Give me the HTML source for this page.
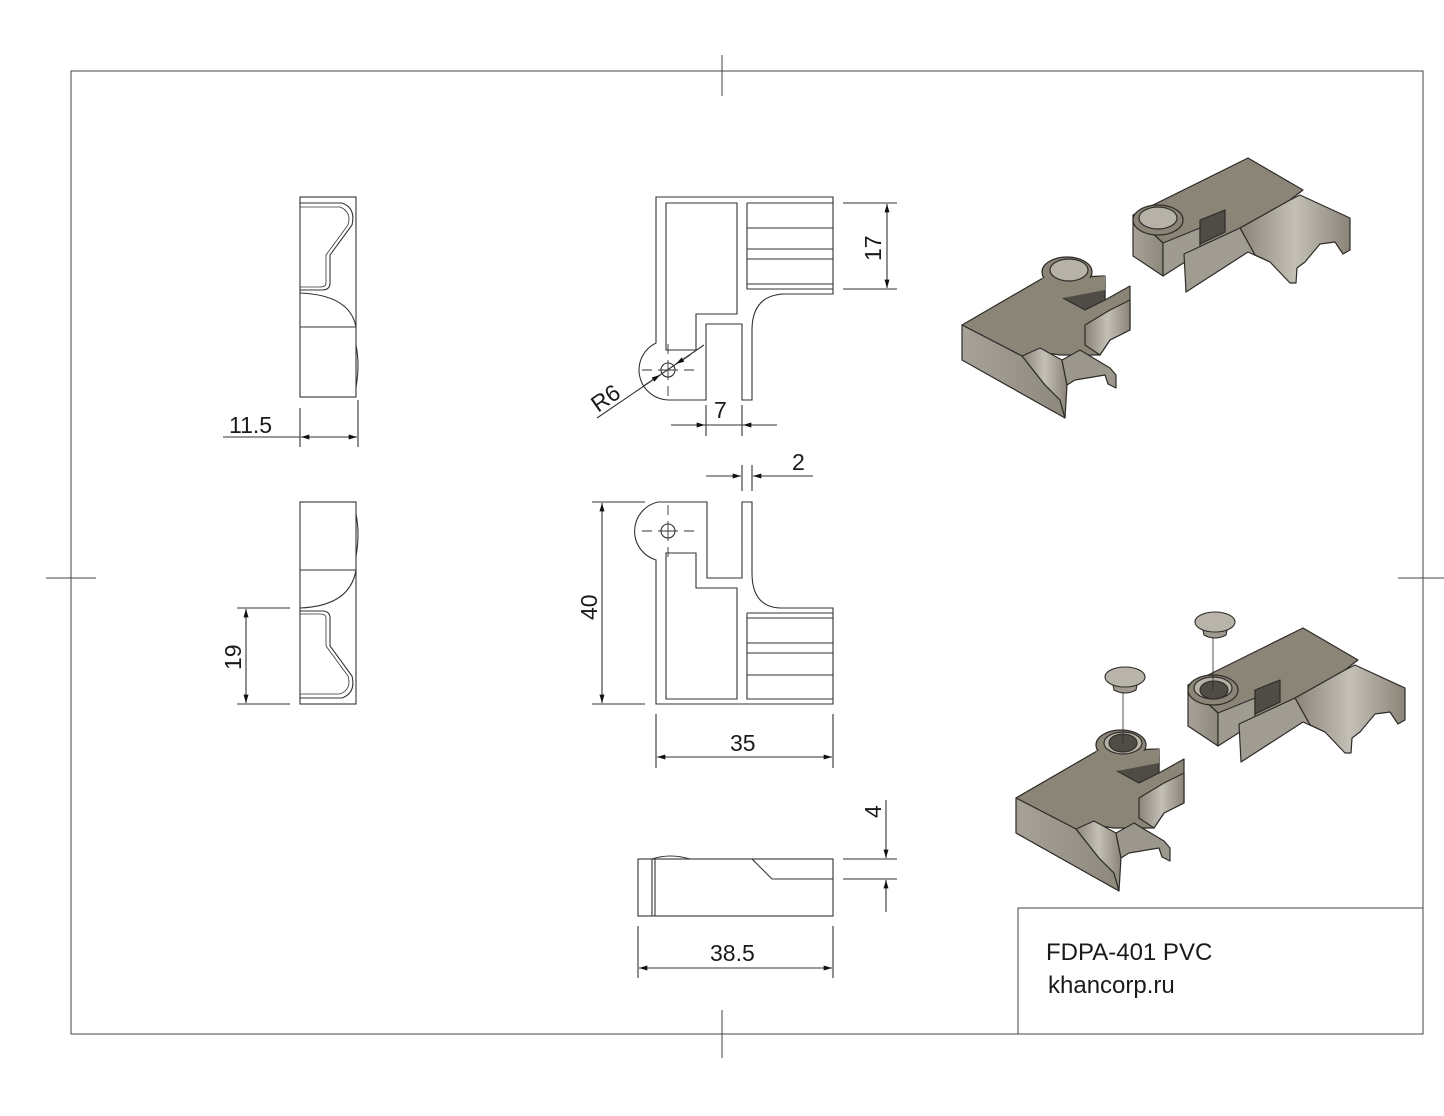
<!DOCTYPE html>
<html><head><meta charset="utf-8"><style>
html,body{margin:0;padding:0;background:#fff;}
svg{display:block}
text{font-family:"Liberation Sans",Arial,sans-serif;fill:#1a1a1a}
</style></head><body>
<svg width="1444" height="1116" viewBox="0 0 1444 1116" xmlns="http://www.w3.org/2000/svg">
<defs>
<marker id="a" viewBox="0 0 10 6" refX="10" refY="3" markerWidth="14" markerHeight="5" markerUnits="userSpaceOnUse" orient="auto-start-reverse"><path d="M0,0L10,3L0,6Z" fill="#111"/></marker>
<linearGradient id="gs" x1="0" y1="0" x2="1" y2="0"><stop offset="0" stop-color="#a7a298"/><stop offset="1" stop-color="#8d887c"/></linearGradient>
<linearGradient id="gc" x1="0" y1="0" x2="1" y2="0"><stop offset="0" stop-color="#8a8478"/><stop offset="0.5" stop-color="#c4c0b7"/><stop offset="1" stop-color="#8a8478"/></linearGradient>
<g id="pA" stroke="#2e2c28" stroke-width="1.2" stroke-linejoin="round">
 <path d="M962,325 L1043,278 L1105,276 L1105,300 L1130,286 L1130,330 L1110,340 L1100,355 L1060,355 L1040,352 L1022,356 Z" fill="#8b8577"/>
 <path d="M962,325 L1022,356 L1045,385 L1060,400 L1065,418 L962,360 Z" fill="url(#gs)"/>
 <path d="M1022,356 L1040,348 L1062,360 L1067,385 L1065,418 L1060,400 L1045,385 Z" fill="url(#gc)"/>
 <path d="M1062,360 L1080,350 L1110,368 L1116,375 L1116,388 L1108,384 L1105,375 L1075,380 L1067,385 Z" fill="#9c978c"/>
 <path d="M1085,325 L1110,310 L1130,300 L1130,330 L1110,340 L1100,355 L1085,345 Z" fill="url(#gc)"/>
 <path d="M1063,298 L1090,284 L1105,282 L1105,300 L1085,310 Z" fill="#4f4c46"/>
 <ellipse cx="1067" cy="272" rx="25" ry="15" fill="#8b8577"/>
 <path d="M1042,278 L1092,278 L1105,276 L1105,290 L1063,298 Z" fill="#8b8577" stroke="none"/>
 <ellipse cx="1069" cy="270" rx="19" ry="11" fill="#b7b2a8"/>
</g>
<g id="pB" stroke="#2e2c28" stroke-width="1.2" stroke-linejoin="round">
 <path d="M1133,215 L1248,158 L1303,190 L1290,200 L1240,228 L1190,252 L1163,243 Z" fill="#8b8577"/>
 <path d="M1133,215 L1163,243 L1163,276 L1133,256 Z" fill="url(#gs)"/>
 <path d="M1163,243 L1200,228 L1200,250 L1185,256 L1185,262 L1163,276 Z" fill="#a09b90"/>
 <path d="M1200,220 L1225,210 L1225,232 L1200,244 Z" fill="#4f4c46"/>
 <path d="M1240,228 L1290,200 L1300,195 L1350,218 L1350,250 L1343,254 L1335,242 L1320,244 L1305,262 L1297,268 L1296,283 L1290,283 L1270,262 L1255,255 Z" fill="url(#gc)"/>
 <path d="M1184,254 L1240,228 L1255,255 L1270,262 L1248,252 L1186,292 Z" fill="#a19c91"/>
 <ellipse cx="1158" cy="220" rx="25" ry="15" fill="#8b8577"/>
 <ellipse cx="1158" cy="218" rx="19" ry="11" fill="#b7b2a8"/>
</g>
</defs>

<g fill="none" stroke="#444" stroke-width="1">
<rect x="71" y="71" width="1352" height="963"/>
<line x1="722" y1="55" x2="722" y2="96"/><line x1="722" y1="1010" x2="722" y2="1058"/>
<line x1="46" y1="578" x2="96" y2="578"/><line x1="1398" y1="578" x2="1444" y2="578"/>
<rect x="1018" y="908" width="405" height="126"/>
</g>
<text x="1046" y="960" font-size="24">FDPA-401 PVC</text>
<text x="1048" y="993" font-size="24">khancorp.ru</text>

<!-- Top view -->
<g fill="none" stroke="#333" stroke-width="1.1">
<path d="M656,197 L833,197 L833,294 L783,294 Q752,296 752,330 L752,400 L742,400 L742,324 L706,324 L706,400 L668,400 A30,30 0 0 1 656,343 Z"/>
<path d="M666,203 L737,203 L737,314 L696,314 L696,350 L666,350 Z"/>
<path d="M747,203 L833,203 M747,203 L747,289 L833,289 M747,228 L833,228 M747,249 L833,249 M747,259 L833,259 M747,284 L833,284"/>
<circle cx="668" cy="370" r="7"/>
<path d="M642,370 L652,370 M658,370 L678,370 M684,370 L694,370 M668,344 L668,354 M668,360 L668,380 M668,386 L668,396" stroke-width="0.9"/>
<path d="M843,203 L897,203 M843,289 L897,289"/>
<line x1="887" y1="204" x2="887" y2="288" marker-start="url(#a)" marker-end="url(#a)"/>
<line x1="597" y1="418" x2="704" y2="345"/>
<line x1="645" y1="385" x2="660" y2="375" marker-end="url(#a)"/>
<line x1="690" y1="355" x2="676" y2="364" marker-end="url(#a)"/>
<path d="M706,405 L706,436 M742,405 L742,436"/>
<line x1="671" y1="425" x2="705" y2="425" marker-end="url(#a)"/>
<line x1="777" y1="425" x2="743" y2="425" marker-end="url(#a)"/>
<line x1="705" y1="425" x2="743" y2="425"/>
</g>
<text x="0" y="0" font-size="23" transform="translate(881,261) rotate(-90)">17</text>
<text x="0" y="0" font-size="23" transform="translate(598,413) rotate(-35)">R6</text>
<text x="714" y="418" font-size="23">7</text>

<!-- Front view -->
<g fill="none" stroke="#333" stroke-width="1.1">
<path d="M658,502 L707,502 L707,578 L742,578 L742,502 L752,502 L752,573 Q752,608 782,608 L833,608 L833,704 L656,704 L656,560 A30,30 0 0 1 658,502 Z"/>
<path d="M666,553 L696,553 L696,588 L737,588 L737,699 L666,699 Z"/>
<path d="M747,613 L747,699 L833,699 M747,613 L833,613 M747,618 L833,618 M747,643 L833,643 M747,653 L833,653 M747,675 L833,675"/>
<circle cx="668" cy="531" r="7"/>
<path d="M642,531 L652,531 M658,531 L678,531 M684,531 L694,531 M668,505 L668,515 M668,521 L668,541 M668,547 L668,557" stroke-width="0.9"/>
<path d="M592,502 L645,502 M592,704 L645,704"/>
<line x1="602" y1="503" x2="602" y2="703" marker-start="url(#a)" marker-end="url(#a)"/>
<path d="M656,714 L656,768 M833,714 L833,768"/>
<line x1="657" y1="757" x2="832" y2="757" marker-start="url(#a)" marker-end="url(#a)"/>
<path d="M742,465 L742,491 M752,465 L752,491"/>
<line x1="706" y1="476" x2="741" y2="476" marker-end="url(#a)"/>
<line x1="813" y1="476" x2="753" y2="476" marker-end="url(#a)"/>
</g>
<text x="0" y="0" font-size="23" transform="translate(597,620) rotate(-90)">40</text>
<text x="730" y="751" font-size="23">35</text>
<text x="792" y="470" font-size="23">2</text>

<!-- Bottom view -->
<g fill="none" stroke="#333" stroke-width="1.1">
<rect x="638" y="859" width="195" height="57"/>
<path d="M652,859 L652,916 M655,859 L655,916"/>
<path d="M652,859 Q670,853 690,859"/>
<path d="M752,859 L772,879 L833,879"/>
<path d="M843,859 L897,859 M843,879 L897,879"/>
<line x1="886" y1="800" x2="886" y2="858" marker-end="url(#a)"/>
<line x1="886" y1="912" x2="886" y2="880" marker-end="url(#a)"/>
<path d="M638,926 L638,978 M833,926 L833,978"/>
<line x1="639" y1="968" x2="832" y2="968" marker-start="url(#a)" marker-end="url(#a)"/>
</g>
<text x="0" y="0" font-size="23" transform="translate(881,818) rotate(-90)">4</text>
<text x="710" y="961" font-size="23">38.5</text>

<!-- Side views -->
<g fill="none" stroke="#333" stroke-width="1.1">
<rect x="300" y="197" width="56" height="200"/>
<path d="M300,327 L356,327 M300,293 Q350,295 356,327"/>
<path d="M300,203 L342,203 Q356,208 352,225 L330,255 L330,283 Q330,290 322,290 L300,290"/>
<path d="M300,207 L340,207 Q352,212 348,225 L326,255 L326,283 Q326,287 320,287 L300,287" stroke-width="0.8"/>
<path d="M356,345 Q360,365 356,387"/>
<path d="M300,408 L300,447 M358,400 L358,447"/>
<line x1="223" y1="437" x2="300" y2="437"/>
<line x1="301" y1="437" x2="357" y2="437" marker-start="url(#a)" marker-end="url(#a)"/>

<rect x="300" y="502" width="56" height="202"/>
<path d="M300,570 L356,570 M300,608 Q350,606 356,570"/>
<path d="M300,698 L342,698 Q356,693 352,676 L330,646 L330,618 Q330,611 322,611 L300,611"/>
<path d="M300,694 L340,694 Q352,689 348,676 L326,646 L326,618 Q326,614 320,614 L300,614" stroke-width="0.8"/>
<path d="M356,514 Q360,534 356,556"/>
<path d="M237,608 L290,608 M237,704 L290,704"/>
<line x1="246" y1="609" x2="246" y2="703" marker-start="url(#a)" marker-end="url(#a)"/>
</g>
<text x="229" y="433" font-size="23">11.5</text>
<text x="0" y="0" font-size="23" transform="translate(241,670) rotate(-90)">19</text>

<!-- 3D views -->
<use href="#pA"/>
<use href="#pB"/>
<use href="#pA" transform="translate(54,473)"/>
<use href="#pB" transform="translate(55,470)"/>
<g stroke="#2e2c28" stroke-width="1.1">
<ellipse cx="1123" cy="743" rx="14" ry="9" fill="#4f4c46"/>
<ellipse cx="1214" cy="690" rx="14" ry="9" fill="#4f4c46"/>
<line x1="1123" y1="690" x2="1123" y2="743" stroke-width="0.8"/>
<line x1="1213" y1="635" x2="1213" y2="690" stroke-width="0.8"/>
<path d="M1112,680 L1114,690 Q1125,696 1136,690 L1138,680 Z" fill="#a09b90"/>
<ellipse cx="1125" cy="677" rx="20" ry="10" fill="#b9b4aa"/>
<path d="M1202,625 L1204,635 Q1215,641 1226,635 L1228,625 Z" fill="#a09b90"/>
<ellipse cx="1215" cy="622" rx="20" ry="10" fill="#b9b4aa"/>
</g>
</svg>
</body></html>
